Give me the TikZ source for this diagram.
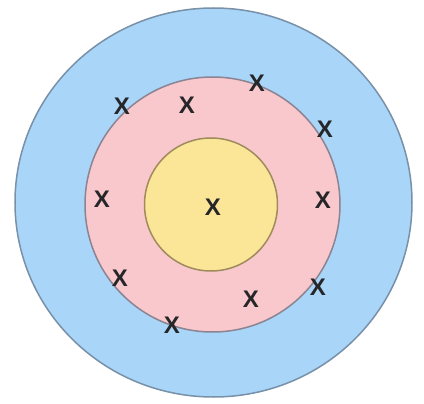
\documentclass[tikz,border=0pt]{standalone}
\usepackage{fontspec}
\setmainfont{Liberation Sans}
\usetikzlibrary{positioning,shapes.geometric}
\definecolor{cInk}{HTML}{262629}
\definecolor{cOuter}{HTML}{A8D5F8}
\definecolor{cOuterLn}{HTML}{7890A8}
\definecolor{cMid}{HTML}{F8C8CC}
\definecolor{cMidLn}{HTML}{8C8492}
\definecolor{cCore}{HTML}{FBE698}
\definecolor{cCoreLn}{HTML}{A08B5C}
\begin{document}
\begin{tikzpicture}[x=1pt,y=-1pt,
    ring/.style={ellipse,inner sep=0pt,outer sep=0pt,line width=1.5pt},
    xmark/.style={inner sep=0pt,font=\fontsize{24}{24}\selectfont\bfseries,text=cInk}]
  \useasboundingbox (0,0) rectangle (424,404);
  % rings
  \node[ring,draw=cOuterLn,fill=cOuter,minimum width=397pt,minimum height=389pt] (outer) at (213.5,202.5) {};
  \node[ring,draw=cMidLn,fill=cMid,minimum size=255pt] (mid) at (212.5,204.5) {};
  \node[ring,draw=cCoreLn,fill=cCore,minimum size=133pt] (core) at (211,204.5) {};
  % marks
  \node[xmark] (c)  at (213,207) {X};
  \node[xmark] (m1) at (122,106) {X};
  \node[xmark] (m2) at (187,105) {X};
  \node[xmark] (m3) at (257,83)  {X};
  \node[xmark] (m4) at (325,129) {X};
  \node[xmark] (m5) at (102,199) {X};
  \node[xmark] (m6) at (323,200) {X};
  \node[xmark] (m7) at (120,278) {X};
  \node[xmark] (m8) at (251,299) {X};
  \node[xmark] (m9) at (318,287) {X};
  \node[xmark] (m10) at (172,325) {X};
\end{tikzpicture}
\end{document}
